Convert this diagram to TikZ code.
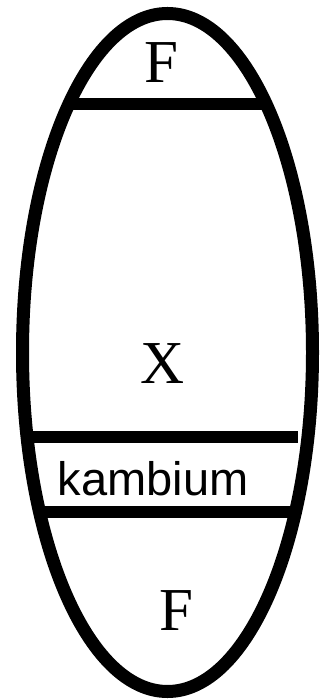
\documentclass[tikz,border=0pt]{standalone}
\usepackage{fontspec}
\setmainfont{Liberation Serif}
\setsansfont{Liberation Sans}
\tikzset{
  wall/.style={draw=black,line width=13pt},
  band/.style={draw=black,line width=12pt},
  lab/.style={font=\fontsize{61}{61}\selectfont,inner sep=0pt,anchor=base},
  slab/.style={font=\sffamily\fontsize{47}{47}\selectfont,inner sep=0pt,anchor=base},
}
\begin{document}
\begin{tikzpicture}[x=1pt,y=-1pt]
\useasboundingbox (0,0) rectangle (325,700);
% stem outline
\draw[wall] (167.5,352.5) ellipse [x radius=145,y radius=339];
% layer borders
\coordinate (t1) at (72,104);  \coordinate (t2) at (263,104);
\coordinate (m1) at (28,437);  \coordinate (m2) at (298,437);
\coordinate (b1) at (40,512);  \coordinate (b2) at (296,512);
\draw[band] (t1) -- (t2);
\draw[band] (m1) -- (m2);
\draw[band] (b1) -- (b2);
% labels
\node[lab] (ftop) at (161,83) {F};
\node[lab] (xyl) at (162.5,383) {X};
\node[slab] (kam) at (153,495) {kambium};
\node[lab] (fbot) at (176,630) {F};
\end{tikzpicture}
\end{document}
